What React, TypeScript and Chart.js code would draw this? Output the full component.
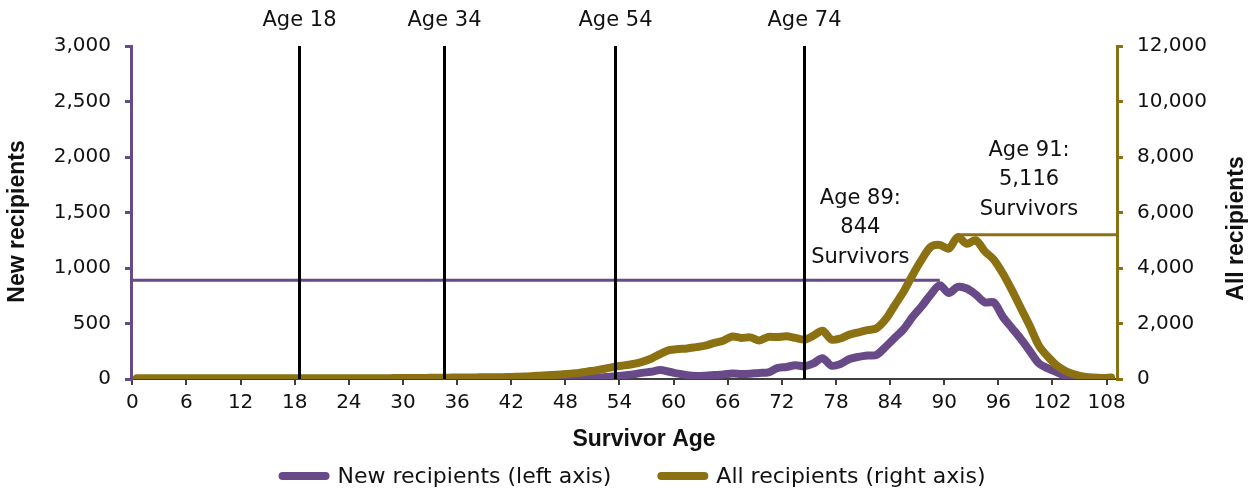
import React, { useEffect, useRef } from "react";
import { Chart, registerables } from "chart.js";

Chart.register(...registerables);

// ---------------- data ----------------
const AGES: number[] = Array.from({ length: 109 }, (_, i) => i);

const NEW_RECIPIENTS: number[] = [
  0, 0, 0, 0, 0, 0, 0, 0, 0, 0,
  0, 0, 0, 0, 0, 0, 0, 0, 0, 0,
  0, 0, 0, 0, 0, 0, 0, 0, 0, 0,
  0, 0, 0, 0, 0, 0, 0, 0, 0, 0,
  0, 0, 0, 0, 0, 1, 1, 2, 2, 4,
  8, 12, 18, 25, 32, 42, 55, 65, 80, 65,
  48, 35, 28, 30, 35, 40, 50, 45, 48, 55,
  60, 98, 108, 124, 115, 140, 188, 120, 135, 180,
  200, 212, 218, 290, 370, 450, 560, 655, 760, 844,
  775, 830, 815, 760, 690, 690, 560, 460, 360, 250,
  140, 95, 60, 25, 5, 0, 0, 0, 0,
];

const ALL_RECIPIENTS: number[] = [
  30, 30, 30, 30, 30, 30, 30, 30, 30, 30,
  30, 30, 30, 30, 30, 30, 30, 30, 30, 30,
  30, 30, 30, 30, 30, 30, 30, 30, 30, 35,
  35, 40, 40, 45, 45, 50, 55, 55, 60, 60,
  65, 70, 80, 90, 110, 130, 140, 160, 190, 220,
  270, 320, 380, 440, 490, 540, 620, 730, 900, 1040,
  1080, 1100, 1150, 1200, 1300, 1380, 1530, 1480, 1500, 1390,
  1520, 1510, 1540, 1480, 1420, 1560, 1740, 1420, 1460, 1600,
  1680, 1760, 1830, 2150, 2650, 3150, 3750, 4300, 4760, 4830,
  4700, 5116, 4870, 5000, 4600, 4300, 3800, 3200, 2550, 1900,
  1200, 800, 480, 280, 160, 80, 50, 40, 50,
];

const X_TICKS: number[] = [0, 6, 12, 18, 24, 30, 36, 42, 48, 54, 60, 66, 72, 78, 84, 90, 96, 102, 108];
const LEFT_TICKS: number[] = [0, 500, 1000, 1500, 2000, 2500, 3000];
const RIGHT_TICKS: number[] = [0, 2000, 4000, 6000, 8000, 10000, 12000];

const MARKER_AGES: number[] = [18, 34, 53, 74];
const MARKER_LABELS: string[] = ["Age 18", "Age 34", "Age 54", "Age 74"];

const NEW_PEAK_AGE = 89;
const NEW_PEAK_LEVEL = 890;
const ALL_PEAK_AGE = 91;
const ALL_PEAK_LEVEL = 5200;

const NEW_NOTE: string[] = ["Age 89:", "844", "Survivors"];
const ALL_NOTE: string[] = ["Age 91:", "5,116", "Survivors"];

const SERIES_LABELS: string[] = ["New recipients (left axis)", "All recipients (right axis)"];
const X_TITLE = "Survivor Age";
const LEFT_TITLE = "New recipients";
const RIGHT_TITLE = "All recipients";

// ---------------- styles ----------------
const PURPLE = "#694a88";
const GOLD = "#8b7111";
const AXIS_GREY = "#404040";
const TEXT = "#111111";
const FONT = "'DejaVu Sans', sans-serif";
const BOLD_FONT = "bold 23px 'Liberation Sans', Arial, sans-serif";
const X_SHIFT = 0.5;

const fmt = (v: number) => Number(v).toLocaleString("en-US");

const overlayPlugin = {
  id: "overlay",
  beforeDatasetsDraw(chart: any) {
    const { ctx, chartArea: ca, scales } = chart;
    const x = scales.x;
    const y = scales.y;
    ctx.save();
    ctx.lineWidth = 3;
    ctx.strokeStyle = PURPLE;
    const yp = y.getPixelForValue(NEW_PEAK_LEVEL);
    ctx.beginPath();
    ctx.moveTo(ca.left, yp);
    ctx.lineTo(x.getPixelForValue(NEW_PEAK_AGE + X_SHIFT), yp);
    ctx.stroke();
    ctx.restore();
  },
  afterDatasetsDraw(chart: any) {
    const { ctx, chartArea: ca, scales } = chart;
    const x = scales.x;
    const y = scales.y;
    const y1 = scales.y1;
    ctx.save();
    // gold horizontal
    ctx.lineWidth = 3;
    ctx.strokeStyle = GOLD;
    const gp = y1.getPixelForValue(ALL_PEAK_LEVEL);
    ctx.beginPath();
    ctx.moveTo(x.getPixelForValue(ALL_PEAK_AGE + X_SHIFT), gp);
    ctx.lineTo(ca.right, gp);
    ctx.stroke();

    // vertical markers
    ctx.strokeStyle = "#000";
    ctx.lineWidth = 3;
    ctx.fillStyle = TEXT;
    ctx.font = `21px ${FONT}`;
    ctx.textAlign = "center";
    ctx.textBaseline = "middle";
    MARKER_AGES.forEach((a, i) => {
      const px = Math.round(x.getPixelForValue(a + X_SHIFT)) + 0.5;
      ctx.beginPath();
      ctx.moveTo(px, ca.top);
      ctx.lineTo(px, ca.bottom);
      ctx.stroke();
      ctx.fillText(MARKER_LABELS[i], px, ca.top - 25);
    });

    // notes
    const drawNote = (lines: string[], cx: number, cy: number) => {
      lines.forEach((t, i) => ctx.fillText(t, cx, cy + (i - 1) * 29.5));
    };
    drawNote(NEW_NOTE, x.getPixelForValue(80.7), y.getPixelForValue(1360));
    drawNote(ALL_NOTE, x.getPixelForValue(99.4), y1.getPixelForValue(7170));
    ctx.restore();
  },
  afterDraw(chart: any) {
    const { ctx, chartArea: ca } = chart;
    ctx.save();
    // axis titles
    ctx.fillStyle = TEXT;
    ctx.font = BOLD_FONT;
    ctx.textAlign = "center";
    ctx.textBaseline = "middle";
    const midY = (ca.top + ca.bottom) / 2;
    ctx.fillText(X_TITLE, (ca.left + ca.right) / 2 + 20, ca.bottom + 61);
    ctx.save();
    ctx.translate(18, midY + 9);
    ctx.rotate(-Math.PI / 2);
    ctx.fillText(LEFT_TITLE, 0, 0);
    ctx.restore();
    ctx.save();
    ctx.translate(chart.width - 11, midY + 16);
    ctx.rotate(-Math.PI / 2);
    ctx.fillText(RIGHT_TITLE, 0, 0);
    ctx.restore();

    // legend
    ctx.font = `22px ${FONT}`;
    ctx.textBaseline = "middle";
    ctx.textAlign = "left";
    const lineLen = 51;
    const gap = 8;
    const itemGap = 46;
    const colors = [PURPLE, GOLD];
    const widths = SERIES_LABELS.map((t) => ctx.measureText(t).width);
    const total = widths.reduce((s, w) => s + lineLen + gap + w, 0) + itemGap;
    let cx = chart.width / 2 + 8 - total / 2;
    const cy = chart.height - 13;
    SERIES_LABELS.forEach((t, i) => {
      ctx.strokeStyle = colors[i];
      ctx.lineWidth = 8;
      ctx.lineCap = "round";
      ctx.beginPath();
      ctx.moveTo(cx + 4, cy);
      ctx.lineTo(cx + lineLen - 4, cy);
      ctx.stroke();
      ctx.fillStyle = TEXT;
      ctx.fillText(t, cx + lineLen + gap, cy + 1);
      cx += lineLen + gap + widths[i] + itemGap;
    });
    ctx.restore();
  },
};

export default function App() {
  const ref = useRef<HTMLCanvasElement | null>(null);

  useEffect(() => {
    if (!ref.current) return;
    document.body.style.margin = "0";
    const chart = new Chart(ref.current, {
      type: "line",
      data: {
        datasets: [
          {
            label: SERIES_LABELS[0],
            data: NEW_RECIPIENTS.map((v, i) => ({ x: AGES[i] + X_SHIFT, y: v })),
            borderColor: PURPLE,
            backgroundColor: PURPLE,
            borderWidth: 8,
            pointRadius: 0,
            tension: 0.3,
            borderCapStyle: "round",
            borderJoinStyle: "round",
            yAxisID: "y",
            order: 2,
          },
          {
            label: SERIES_LABELS[1],
            data: ALL_RECIPIENTS.map((v, i) => ({ x: AGES[i] + X_SHIFT, y: v })),
            borderColor: GOLD,
            backgroundColor: GOLD,
            borderWidth: 8,
            pointRadius: 0,
            tension: 0.3,
            borderCapStyle: "round",
            borderJoinStyle: "round",
            yAxisID: "y1",
            order: 1,
          },
        ],
      },
      options: {
        responsive: false,
        animation: false,
        devicePixelRatio: 1,
        layout: { padding: { top: 46, bottom: 36, left: 0, right: 0 } },
        plugins: { legend: { display: false }, tooltip: { enabled: false } },
        scales: {
          x: {
            type: "linear",
            min: -0.15,
            max: 109.15,
            afterBuildTicks: (s: any) => {
              s.ticks = X_TICKS.map((v) => ({ value: v }));
            },
            afterFit: (s: any) => {
              s.height = 74;
            },
            border: { display: true, color: AXIS_GREY, width: 2 },
            grid: { drawOnChartArea: false, color: AXIS_GREY, lineWidth: 2, tickLength: 6 },
            ticks: {
              autoSkip: false,
              maxRotation: 0,
              padding: 6,
              color: TEXT,
              font: { family: FONT, size: 20 },
              callback: (v: any) => String(v),
            },
          },
          y: {
            type: "linear",
            position: "left",
            min: 0,
            max: 3000,
            afterBuildTicks: (s: any) => {
              s.ticks = LEFT_TICKS.map((v) => ({ value: v }));
            },
            afterFit: (s: any) => {
              s.width = 131;
            },
            border: { display: true, color: PURPLE, width: 3 },
            grid: { drawOnChartArea: false, color: PURPLE, lineWidth: 3, tickLength: 6 },
            ticks: {
              padding: 14,
              color: TEXT,
              font: { family: FONT, size: 20 },
              callback: (v: any) => fmt(v),
            },
          },
          y1: {
            type: "linear",
            position: "right",
            min: 0,
            max: 12000,
            afterBuildTicks: (s: any) => {
              s.ticks = RIGHT_TICKS.map((v) => ({ value: v }));
            },
            afterFit: (s: any) => {
              s.width = 131;
            },
            border: { display: true, color: GOLD, width: 3 },
            grid: { drawOnChartArea: false, color: GOLD, lineWidth: 3, tickLength: 6 },
            ticks: {
              padding: 14,
              color: TEXT,
              font: { family: FONT, size: 20 },
              callback: (v: any) => fmt(v),
            },
          },
        },
      } as any,
      plugins: [overlayPlugin],
    });
    return () => chart.destroy();
  }, []);

  return (
    <div style={{ position: "fixed", left: 0, top: 0, width: 1248, height: 489, background: "#fff" }}>
      <canvas ref={ref} width={1248} height={489} />
    </div>
  );
}
